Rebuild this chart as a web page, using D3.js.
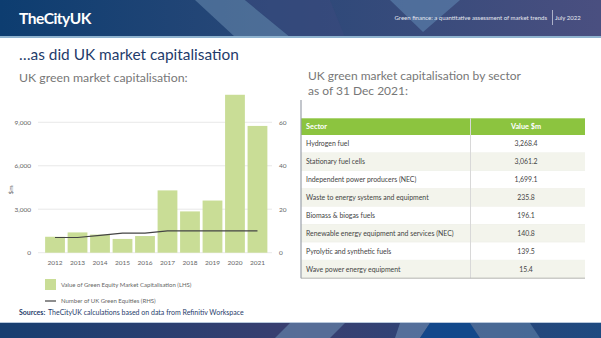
<!DOCTYPE html>
<html><head><meta charset="utf-8">
<script src="https://cdn.jsdelivr.net/npm/d3@7"></script>
<style>
html,body{margin:0;padding:0;background:#fff;}
svg{display:block;font-family:Lato,"Open Sans",sans-serif;}
</style></head>
<body><svg id="c" width="601" height="338"></svg>
<script>
const years = ["2012","2013","2014","2015","2016","2017","2018","2019","2020","2021"];
const marketCap = [1100,1400,1250,950,1150,4300,2850,3600,10900,8750];
const equityCount = [7,7,8,9,9,10,10,10,10,10];
const leftTicks = [0,3000,6000,9000];
const rightTicks = [0,20,40,60];
const sectors = ["Hydrogen fuel","Stationary fuel cells","Independent power producers (NEC)","Waste to energy systems and equipment","Biomass & biogas fuels","Renewable energy equipment and services (NEC)","Pyrolytic and synthetic fuels","Wave power energy equipment"];
const sectorValues = ["3,268.4","3,061.2","1,699.1","235.8","196.1","140.8","139.5","15.4"];

const svg = d3.select("#c");
const defs = svg.append("defs");
const g1 = defs.append("linearGradient").attr("id","hdr").attr("x1","0").attr("x2","1").attr("y1","0").attr("y2","0");
g1.append("stop").attr("offset","0").attr("stop-color","#0d3d70");
g1.append("stop").attr("offset","0.45").attr("stop-color","#2a4878");
g1.append("stop").attr("offset","1").attr("stop-color","#4a4f80");
const g2 = defs.append("linearGradient").attr("id","ftr").attr("x1","0").attr("x2","1").attr("y1","0").attr("y2","0");
g2.append("stop").attr("offset","0").attr("stop-color","#173e70");
g2.append("stop").attr("offset","0.5").attr("stop-color","#3a3f70");
g2.append("stop").attr("offset","1").attr("stop-color","#1e4a80");

// header
svg.append("rect").attr("x",0).attr("y",0).attr("width",601).attr("height",37).attr("fill","url(#hdr)");
svg.append("polygon").attr("points","195,0 245,0 290,37 235,37").attr("fill","#6a8cb0").attr("opacity",0.55);
svg.append("polygon").attr("points","245,0 330,0 345,37 290,37").attr("fill","#3b4a7e").attr("opacity",0.5);
svg.append("polygon").attr("points","390,0 460,0 423,32").attr("fill","#5f86b0").attr("opacity",0.6);
svg.append("rect").attr("x",0).attr("y",36).attr("width",601).attr("height",2).attr("fill","#8fb3cf");
svg.append("text").attr("x",19).attr("y",24).attr("fill","#fff").attr("font-weight","bold").attr("font-size",15.5).attr("letter-spacing",-0.5).text("TheCityUK");
svg.append("text").attr("x",547).attr("y",20).attr("text-anchor","end").attr("fill","#e6e8f0").attr("font-size",6).text("Green finance: a quantitative assessment of market trends");
svg.append("line").attr("x1",552.5).attr("x2",552.5).attr("y1",10).attr("y2",25).attr("stroke","#d8dce8").attr("stroke-width",0.7);
svg.append("text").attr("x",555).attr("y",20).attr("fill","#e6e8f0").attr("font-size",6).text("July 2022");

// footer
svg.append("rect").attr("x",0).attr("y",322).attr("width",601).attr("height",16).attr("fill","url(#ftr)");
svg.append("rect").attr("x",0).attr("y",322).attr("width",601).attr("height",1).attr("fill","#b8c8dc");
svg.append("polygon").attr("points","275,338 290,323 345,323 330,338").attr("fill","#6a8cb0").attr("opacity",0.6);
svg.append("polygon").attr("points","395,338 400,323 430,323 420,338").attr("fill","#7a9cc0").attr("opacity",0.5);
svg.append("polygon").attr("points","420,338 430,323 470,323 480,338").attr("fill","#0d4a90").attr("opacity",0.8);
svg.append("polygon").attr("points","480,338 470,323 530,323 540,338").attr("fill","#6a8cb0").attr("opacity",0.5);

// titles
svg.append("text").attr("x",19).attr("y",60).attr("fill","#1f3c6b").attr("font-size",15.4).text("…as did UK market capitalisation");
svg.append("text").attr("x",19).attr("y",82).attr("fill","#777").attr("font-size",12.3).text("UK green market capitalisation:");
svg.append("text").attr("x",308).attr("y",80).attr("fill","#777").attr("font-size",12).text("UK green market capitalisation by sector");
svg.append("text").attr("x",308).attr("y",95).attr("fill","#777").attr("font-size",12).text("as of 31 Dec 2021:");

// chart
const x = d3.scaleBand().domain(years).range([44,268.5]).paddingInner(0.12).paddingOuter(0.05);
const yL = d3.scaleLinear().domain([0,9000]).range([252.7,122.3]);
const yR = d3.scaleLinear().domain([0,60]).range([252.7,122.3]);

const gridG = svg.append("g");
gridG.selectAll("line").data(leftTicks).join("line")
  .attr("x1",38).attr("x2",272).attr("y1",d=>yL(d)).attr("y2",d=>yL(d))
  .attr("stroke","#e2e2e2").attr("stroke-width",0.8);

svg.append("g").selectAll("rect").data(years).join("rect")
  .attr("x",d=>x(d)).attr("width",x.bandwidth())
  .attr("y",(d,i)=>yL(marketCap[i])).attr("height",(d,i)=>yL(0)-yL(marketCap[i]))
  .attr("fill","#c9dd96");

const line = d3.line().x((d,i)=>x(years[i])+x.bandwidth()/2).y(d=>yR(d));
svg.append("path").datum(equityCount).attr("d",line).attr("fill","none").attr("stroke","#444").attr("stroke-width",1.2);

const axL = svg.append("g").attr("transform","translate(31,0)")
  .call(d3.axisLeft(yL).tickValues(leftTicks).tickSize(0).tickPadding(0).tickFormat(d3.format(",")));
const axR = svg.append("g").attr("transform","translate(279,0)")
  .call(d3.axisRight(yR).tickValues(rightTicks).tickSize(0).tickPadding(0));
const axB = svg.append("g").attr("transform","translate(0,256)")
  .call(d3.axisBottom(x).tickSize(0).tickPadding(4));
[axL,axR,axB].forEach(a=>{a.select(".domain").remove();a.selectAll("text").attr("fill","#666").attr("font-size",6.5).attr("font-family","Lato,'Open Sans',sans-serif");});

svg.append("text").attr("transform","translate(13,190) rotate(-90)").attr("text-anchor","middle").attr("fill","#666").attr("font-size",6.5).text("$m");

// legend
svg.append("rect").attr("x",45).attr("y",279).attr("width",11).attr("height",11).attr("fill","#c9dd96");
svg.append("text").attr("x",61).attr("y",286.5).attr("fill","#666").attr("font-size",6).text("Value of Green Equity Market Capitalisation (LHS)");
svg.append("line").attr("x1",45).attr("x2",56).attr("y1",301).attr("y2",301).attr("stroke","#444").attr("stroke-width",1.2);
svg.append("text").attr("x",61).attr("y",303).attr("fill","#666").attr("font-size",6).text("Number of UK Green Equities (RHS)");
svg.append("text").attr("x",19).attr("y",315).attr("fill","#1f3c6b").attr("font-size",7).attr("font-weight","bold").text("Sources:");
svg.append("text").attr("x",48).attr("y",315).attr("fill","#1f3c6b").attr("font-size",7).text("TheCityUK calculations based on data from Refinitiv Workspace");

// table
const tx0 = 301, tx1 = 585, tdiv = 470.5, hy0 = 118.3, hy1 = 135, rh = 17.9;
const tFont = "Lato,'Open Sans',sans-serif";
const rowY = d3.scaleBand().domain(d3.range(sectors.length)).range([hy1, hy1 + rh*sectors.length]).padding(0);
svg.append("rect").attr("x",tx0).attr("y",hy0).attr("width",tx1-tx0).attr("height",hy1-hy0).attr("fill","#8cc43f");
const rows = svg.append("g").selectAll("g").data(sectors).join("g");
rows.append("rect").attr("x",tx0).attr("y",(d,i)=>rowY(i)).attr("width",tx1-tx0).attr("height",rowY.bandwidth())
  .attr("fill",(d,i)=>i%2? "#f3f4ec":"#ffffff");
rows.append("line").attr("x1",tx0).attr("x2",tx1).attr("y1",(d,i)=>rowY(i)+rowY.bandwidth()).attr("y2",(d,i)=>rowY(i)+rowY.bandwidth())
  .attr("stroke","#e4e6dc").attr("stroke-width",0.6);
rows.append("text").attr("x",306).attr("y",(d,i)=>rowY(i)+rowY.bandwidth()/2+2.5).attr("fill","#444").attr("font-size",6.9).attr("font-family",tFont).text(d=>d);
rows.append("text").attr("x",526).attr("y",(d,i)=>rowY(i)+rowY.bandwidth()/2+2.5).attr("text-anchor","middle").attr("fill","#444").attr("font-size",6.9).attr("font-family",tFont).text((d,i)=>sectorValues[i]);
svg.append("line").attr("x1",tdiv).attr("x2",tdiv).attr("y1",hy0).attr("y2",hy1+rh*sectors.length).attr("stroke","#d8d8d8").attr("stroke-width",1);
svg.append("line").attr("x1",tx0).attr("x2",tx1).attr("y1",hy1+rh*sectors.length).attr("y2",hy1+rh*sectors.length).attr("stroke","#aaa").attr("stroke-width",0.8);
svg.append("line").attr("x1",tx0).attr("x2",tx0).attr("y1",100).attr("y2",hy1+rh*sectors.length).attr("stroke","#9aa0aa").attr("stroke-width",1.2);
svg.append("text").attr("x",306).attr("y",129).attr("fill","#fff").attr("font-weight","bold").attr("font-size",7.3).attr("font-family",tFont).text("Sector");
svg.append("text").attr("x",526).attr("y",129).attr("text-anchor","middle").attr("fill","#fff").attr("font-weight","bold").attr("font-size",7.3).attr("font-family",tFont).text("Value $m");
</script></body></html>
